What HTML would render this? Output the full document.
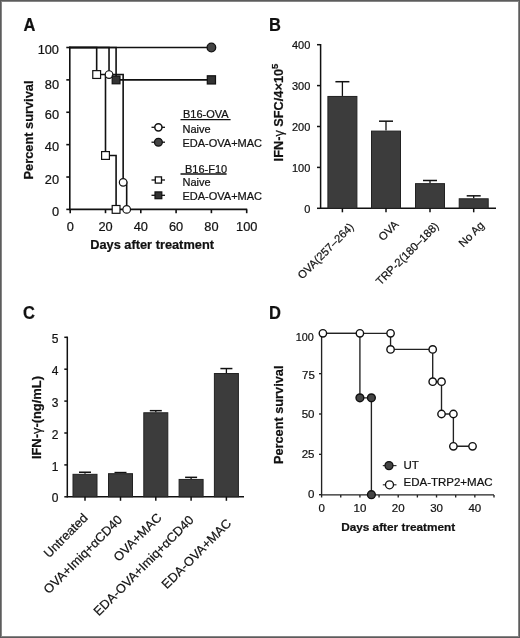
<!DOCTYPE html>
<html><head><meta charset="utf-8"><style>
html,body{margin:0;padding:0;background:#fff;}
body{width:520px;height:638px;overflow:hidden;}
.fig{position:absolute;left:0;top:0;width:518px;height:636px;border:1px solid #5c5c5c;box-shadow:inset 0 0 0 1px #868686;}
svg{position:absolute;left:0;top:0;will-change:transform;}
text{font-family:"Liberation Sans", sans-serif;stroke:#111;stroke-width:0.22px;paint-order:stroke;}
</style></head><body>
<div class="fig"></div>
<svg width="520" height="638" viewBox="0 0 520 638">
<text transform="translate(23.4 30.8) scale(0.9 1)" x="0" y="0" font-size="18.3" font-weight="bold" fill="#111">A</text>
<line x1="69.80" y1="46.70" x2="69.80" y2="210.20" stroke="#111" stroke-width="1.6"/>
<line x1="66.30" y1="209.40" x2="69.80" y2="209.40" stroke="#111" stroke-width="1.6"/>
<text x="59.00" y="215.70" font-size="12.8" text-anchor="end" fill="#111">0</text>
<line x1="66.30" y1="177.02" x2="69.80" y2="177.02" stroke="#111" stroke-width="1.6"/>
<text x="59.00" y="184.32" font-size="12.8" text-anchor="end" fill="#111">20</text>
<line x1="66.30" y1="144.64" x2="69.80" y2="144.64" stroke="#111" stroke-width="1.6"/>
<text x="59.00" y="150.84" font-size="12.8" text-anchor="end" fill="#111">40</text>
<line x1="66.30" y1="112.26" x2="69.80" y2="112.26" stroke="#111" stroke-width="1.6"/>
<text x="59.00" y="119.26" font-size="12.8" text-anchor="end" fill="#111">60</text>
<line x1="66.30" y1="79.88" x2="69.80" y2="79.88" stroke="#111" stroke-width="1.6"/>
<text x="59.00" y="88.88" font-size="12.8" text-anchor="end" fill="#111">80</text>
<line x1="66.30" y1="47.50" x2="69.80" y2="47.50" stroke="#111" stroke-width="1.6"/>
<text x="59.00" y="54.40" font-size="12.8" text-anchor="end" fill="#111">100</text>
<line x1="69.80" y1="209.40" x2="247.20" y2="209.40" stroke="#111" stroke-width="1.6"/>
<line x1="70.20" y1="209.40" x2="70.20" y2="213.20" stroke="#111" stroke-width="1.6"/>
<text x="70.20" y="230.80" font-size="12.8" text-anchor="middle" fill="#111">0</text>
<line x1="105.50" y1="209.40" x2="105.50" y2="213.20" stroke="#111" stroke-width="1.6"/>
<text x="105.50" y="230.80" font-size="12.8" text-anchor="middle" fill="#111">20</text>
<line x1="140.80" y1="209.40" x2="140.80" y2="213.20" stroke="#111" stroke-width="1.6"/>
<text x="140.80" y="230.80" font-size="12.8" text-anchor="middle" fill="#111">40</text>
<line x1="176.10" y1="209.40" x2="176.10" y2="213.20" stroke="#111" stroke-width="1.6"/>
<text x="176.10" y="230.80" font-size="12.8" text-anchor="middle" fill="#111">60</text>
<line x1="211.40" y1="209.40" x2="211.40" y2="213.20" stroke="#111" stroke-width="1.6"/>
<text x="211.40" y="230.80" font-size="12.8" text-anchor="middle" fill="#111">80</text>
<line x1="246.70" y1="209.40" x2="246.70" y2="213.20" stroke="#111" stroke-width="1.6"/>
<text x="246.70" y="230.80" font-size="12.8" text-anchor="middle" fill="#111">100</text>
<text x="152.10" y="249.30" font-size="12.8" text-anchor="middle" font-weight="bold" fill="#111">Days after treatment</text>
<text x="32.50" y="130.00" font-size="12.8" text-anchor="middle" font-weight="bold" transform="rotate(-90 32.50 130.00)" fill="#111">Percent survival</text>
<polyline points="69.80,47.50 211.40,47.50" fill="none" stroke="#111" stroke-width="1.6" stroke-linejoin="miter" stroke-linecap="square"/>
<polyline points="70.20,47.50 96.67,47.50 96.67,74.54 105.50,74.54 105.50,155.49 116.09,155.49 116.09,209.40" fill="none" stroke="#111" stroke-width="1.6" stroke-linejoin="miter" stroke-linecap="square"/>
<polyline points="70.20,47.50 109.03,47.50 109.03,74.54 123.15,74.54 123.15,182.36 126.68,182.36 126.68,209.40" fill="none" stroke="#111" stroke-width="1.6" stroke-linejoin="miter" stroke-linecap="square"/>
<polyline points="70.20,47.50 116.09,47.50 116.09,79.88 211.40,79.88" fill="none" stroke="#111" stroke-width="1.6" stroke-linejoin="miter" stroke-linecap="square"/>
<rect x="92.77" y="70.64" width="7.8" height="7.8" fill="#fff" stroke="#111" stroke-width="1.2"/>
<rect x="101.60" y="151.59" width="7.8" height="7.8" fill="#fff" stroke="#111" stroke-width="1.2"/>
<rect x="112.19" y="205.50" width="7.8" height="7.8" fill="#fff" stroke="#111" stroke-width="1.2"/>
<circle cx="109.03" cy="74.54" r="3.8" fill="#fff" stroke="#111" stroke-width="1.2"/>
<circle cx="123.15" cy="182.36" r="3.8" fill="#fff" stroke="#111" stroke-width="1.2"/>
<circle cx="126.68" cy="209.40" r="3.8" fill="#fff" stroke="#111" stroke-width="1.2"/>
<rect x="112.19" y="75.98" width="7.8" height="7.8" fill="#333" stroke="#111" stroke-width="1.2"/>
<rect x="207.30" y="75.78" width="8.2" height="8.2" fill="#333" stroke="#111" stroke-width="1.2"/>
<circle cx="211.40" cy="47.50" r="4.3" fill="#444" stroke="#111" stroke-width="1.3"/>
<text x="183.00" y="118.00" font-size="11" text-anchor="start" fill="#111">B16-OVA</text>
<line x1="180.50" y1="119.70" x2="230.60" y2="119.70" stroke="#111" stroke-width="1.3"/>
<text x="182.50" y="132.50" font-size="11" text-anchor="start" fill="#111">Naive</text>
<text x="182.50" y="147.00" font-size="11" text-anchor="start" fill="#111">EDA-OVA+MAC</text>
<line x1="151.50" y1="127.30" x2="165.00" y2="127.30" stroke="#111" stroke-width="1.3"/>
<circle cx="158.40" cy="127.30" r="3.6" fill="#fff" stroke="#111" stroke-width="1.5"/>
<line x1="151.50" y1="142.20" x2="165.00" y2="142.20" stroke="#111" stroke-width="1.3"/>
<circle cx="158.40" cy="142.20" r="3.9" fill="#444" stroke="#111" stroke-width="1.3"/>
<text x="185.00" y="173.00" font-size="11" text-anchor="start" fill="#111">B16-F10</text>
<line x1="180.50" y1="174.00" x2="226.60" y2="174.00" stroke="#111" stroke-width="1.3"/>
<text x="182.50" y="185.80" font-size="11" text-anchor="start" fill="#111">Naive</text>
<text x="182.50" y="200.20" font-size="11" text-anchor="start" fill="#111">EDA-OVA+MAC</text>
<line x1="151.50" y1="180.00" x2="165.00" y2="180.00" stroke="#111" stroke-width="1.3"/>
<rect x="155.30" y="176.90" width="6.2" height="6.2" fill="#fff" stroke="#111" stroke-width="1.3"/>
<line x1="151.50" y1="195.30" x2="165.00" y2="195.30" stroke="#111" stroke-width="1.3"/>
<rect x="155.00" y="191.90" width="6.8" height="6.8" fill="#333" stroke="#111" stroke-width="1.2"/>
<text transform="translate(269.0 30.8) scale(0.9 1)" x="0" y="0" font-size="18.3" font-weight="bold" fill="#111">B</text>
<line x1="320.60" y1="44.00" x2="320.60" y2="209.00" stroke="#111" stroke-width="1.5"/>
<line x1="317.00" y1="208.30" x2="320.60" y2="208.30" stroke="#111" stroke-width="1.5"/>
<text x="310.30" y="212.90" font-size="11" text-anchor="end" fill="#111">0</text>
<line x1="317.00" y1="167.40" x2="320.60" y2="167.40" stroke="#111" stroke-width="1.5"/>
<text x="310.30" y="172.00" font-size="11" text-anchor="end" fill="#111">100</text>
<line x1="317.00" y1="126.50" x2="320.60" y2="126.50" stroke="#111" stroke-width="1.5"/>
<text x="310.30" y="131.10" font-size="11" text-anchor="end" fill="#111">200</text>
<line x1="317.00" y1="85.60" x2="320.60" y2="85.60" stroke="#111" stroke-width="1.5"/>
<text x="310.30" y="90.20" font-size="11" text-anchor="end" fill="#111">300</text>
<line x1="317.00" y1="44.70" x2="320.60" y2="44.70" stroke="#111" stroke-width="1.5"/>
<text x="310.30" y="49.30" font-size="11" text-anchor="end" fill="#111">400</text>
<line x1="320.60" y1="208.30" x2="496.00" y2="208.30" stroke="#111" stroke-width="1.5"/>
<line x1="342.40" y1="95.95" x2="342.40" y2="81.71" stroke="#111" stroke-width="1.3"/>
<line x1="335.40" y1="81.71" x2="349.40" y2="81.71" stroke="#111" stroke-width="1.5"/>
<rect x="327.90" y="96.45" width="29.00" height="111.85" fill="#3c3c3c" stroke="#222" stroke-width="1"/>
<line x1="342.40" y1="208.30" x2="342.40" y2="212.30" stroke="#111" stroke-width="1.5"/>
<line x1="386.00" y1="130.59" x2="386.00" y2="121.18" stroke="#111" stroke-width="1.3"/>
<line x1="379.00" y1="121.18" x2="393.00" y2="121.18" stroke="#111" stroke-width="1.5"/>
<rect x="371.50" y="131.09" width="29.00" height="77.21" fill="#3c3c3c" stroke="#222" stroke-width="1"/>
<line x1="386.00" y1="208.30" x2="386.00" y2="212.30" stroke="#111" stroke-width="1.5"/>
<line x1="430.00" y1="183.15" x2="430.00" y2="180.49" stroke="#111" stroke-width="1.3"/>
<line x1="423.00" y1="180.49" x2="437.00" y2="180.49" stroke="#111" stroke-width="1.5"/>
<rect x="415.50" y="183.65" width="29.00" height="24.65" fill="#3c3c3c" stroke="#222" stroke-width="1"/>
<line x1="430.00" y1="208.30" x2="430.00" y2="212.30" stroke="#111" stroke-width="1.5"/>
<line x1="473.70" y1="198.28" x2="473.70" y2="195.83" stroke="#111" stroke-width="1.3"/>
<line x1="466.70" y1="195.83" x2="480.70" y2="195.83" stroke="#111" stroke-width="1.5"/>
<rect x="459.20" y="198.78" width="29.00" height="9.52" fill="#3c3c3c" stroke="#222" stroke-width="1"/>
<line x1="473.70" y1="208.30" x2="473.70" y2="212.30" stroke="#111" stroke-width="1.5"/>
<text x="283.00" y="112.50" font-size="12.75" text-anchor="middle" font-weight="bold" transform="rotate(-90 283.00 112.50)" fill="#111">IFN-<tspan font-weight="normal">γ</tspan> SFC/4×10<tspan font-size="9.5" dy="-5">5</tspan></text>
<text x="354.50" y="227.60" font-size="11.2" text-anchor="end" transform="rotate(-45 354.50 227.60)" fill="#111">OVA(257–264)</text>
<text x="399.20" y="225.30" font-size="11.2" text-anchor="end" transform="rotate(-45 399.20 225.30)" fill="#111">OVA</text>
<text x="439.50" y="226.80" font-size="11.2" text-anchor="end" transform="rotate(-45 439.50 226.80)" fill="#111">TRP-2(180–188)</text>
<text x="484.90" y="226.10" font-size="11.2" text-anchor="end" transform="rotate(-45 484.90 226.10)" fill="#111">No Ag</text>
<text transform="translate(23.0 318.8) scale(0.9 1)" x="0" y="0" font-size="18.3" font-weight="bold" fill="#111">C</text>
<line x1="67.30" y1="336.60" x2="67.30" y2="497.50" stroke="#111" stroke-width="1.5"/>
<line x1="64.30" y1="496.80" x2="67.30" y2="496.80" stroke="#111" stroke-width="1.5"/>
<text x="58.50" y="502.40" font-size="12" text-anchor="end" fill="#111">0</text>
<line x1="64.30" y1="464.90" x2="67.30" y2="464.90" stroke="#111" stroke-width="1.5"/>
<text x="58.50" y="470.50" font-size="12" text-anchor="end" fill="#111">1</text>
<line x1="64.30" y1="433.00" x2="67.30" y2="433.00" stroke="#111" stroke-width="1.5"/>
<text x="58.50" y="438.60" font-size="12" text-anchor="end" fill="#111">2</text>
<line x1="64.30" y1="401.10" x2="67.30" y2="401.10" stroke="#111" stroke-width="1.5"/>
<text x="58.50" y="406.70" font-size="12" text-anchor="end" fill="#111">3</text>
<line x1="64.30" y1="369.20" x2="67.30" y2="369.20" stroke="#111" stroke-width="1.5"/>
<text x="58.50" y="374.80" font-size="12" text-anchor="end" fill="#111">4</text>
<line x1="64.30" y1="337.30" x2="67.30" y2="337.30" stroke="#111" stroke-width="1.5"/>
<text x="58.50" y="342.90" font-size="12" text-anchor="end" fill="#111">5</text>
<line x1="67.30" y1="496.80" x2="244.00" y2="496.80" stroke="#111" stroke-width="1.5"/>
<line x1="85.00" y1="473.83" x2="85.00" y2="472.24" stroke="#111" stroke-width="1.3"/>
<line x1="79.00" y1="472.24" x2="91.00" y2="472.24" stroke="#111" stroke-width="1.5"/>
<rect x="73.00" y="474.33" width="24.00" height="22.47" fill="#3c3c3c" stroke="#222" stroke-width="1"/>
<line x1="85.00" y1="496.80" x2="85.00" y2="500.80" stroke="#111" stroke-width="1.5"/>
<line x1="120.50" y1="473.19" x2="120.50" y2="472.56" stroke="#111" stroke-width="1.3"/>
<line x1="114.50" y1="472.56" x2="126.50" y2="472.56" stroke="#111" stroke-width="1.5"/>
<rect x="108.50" y="473.69" width="24.00" height="23.11" fill="#3c3c3c" stroke="#222" stroke-width="1"/>
<line x1="120.50" y1="496.80" x2="120.50" y2="500.80" stroke="#111" stroke-width="1.5"/>
<line x1="155.80" y1="412.26" x2="155.80" y2="410.67" stroke="#111" stroke-width="1.3"/>
<line x1="149.80" y1="410.67" x2="161.80" y2="410.67" stroke="#111" stroke-width="1.5"/>
<rect x="143.80" y="412.76" width="24.00" height="84.04" fill="#3c3c3c" stroke="#222" stroke-width="1"/>
<line x1="155.80" y1="496.80" x2="155.80" y2="500.80" stroke="#111" stroke-width="1.5"/>
<line x1="191.10" y1="478.94" x2="191.10" y2="477.34" stroke="#111" stroke-width="1.3"/>
<line x1="185.10" y1="477.34" x2="197.10" y2="477.34" stroke="#111" stroke-width="1.5"/>
<rect x="179.10" y="479.44" width="24.00" height="17.36" fill="#3c3c3c" stroke="#222" stroke-width="1"/>
<line x1="191.10" y1="496.80" x2="191.10" y2="500.80" stroke="#111" stroke-width="1.5"/>
<line x1="226.40" y1="373.03" x2="226.40" y2="368.56" stroke="#111" stroke-width="1.3"/>
<line x1="220.40" y1="368.56" x2="232.40" y2="368.56" stroke="#111" stroke-width="1.5"/>
<rect x="214.40" y="373.53" width="24.00" height="123.27" fill="#3c3c3c" stroke="#222" stroke-width="1"/>
<line x1="226.40" y1="496.80" x2="226.40" y2="500.80" stroke="#111" stroke-width="1.5"/>
<text x="40.60" y="417.60" font-size="12.9" text-anchor="middle" font-weight="bold" transform="rotate(-90 40.60 417.60)" fill="#111">IFN-<tspan font-weight="normal">γ</tspan>-(ng/mL)</text>
<text x="88.60" y="518.80" font-size="12.75" text-anchor="end" transform="rotate(-45 88.60 518.80)" fill="#111">Untreated</text>
<text x="123.00" y="520.40" font-size="12.75" text-anchor="end" transform="rotate(-45 123.00 520.40)" fill="#111">OVA+Imiq+αCD40</text>
<text x="162.40" y="518.50" font-size="12.75" text-anchor="end" transform="rotate(-45 162.40 518.50)" fill="#111">OVA+MAC</text>
<text x="194.60" y="520.70" font-size="12.75" text-anchor="end" transform="rotate(-45 194.60 520.70)" fill="#111">EDA-OVA+Imiq+αCD40</text>
<text x="232.10" y="524.30" font-size="12.75" text-anchor="end" transform="rotate(-45 232.10 524.30)" fill="#111">EDA-OVA+MAC</text>
<text transform="translate(269.0 318.8) scale(0.9 1)" x="0" y="0" font-size="18.3" font-weight="bold" fill="#111">D</text>
<line x1="321.60" y1="333.30" x2="321.60" y2="494.90" stroke="#222" stroke-width="1.35"/>
<line x1="319.00" y1="494.70" x2="321.60" y2="494.70" stroke="#222" stroke-width="1.35"/>
<text x="314.50" y="498.40" font-size="11.5" text-anchor="end" fill="#111">0</text>
<line x1="319.00" y1="454.35" x2="321.60" y2="454.35" stroke="#222" stroke-width="1.35"/>
<text x="314.50" y="458.40" font-size="11.5" text-anchor="end" fill="#111">25</text>
<line x1="319.00" y1="414.00" x2="321.60" y2="414.00" stroke="#222" stroke-width="1.35"/>
<text x="314.50" y="418.40" font-size="11.5" text-anchor="end" fill="#111">50</text>
<line x1="319.00" y1="373.65" x2="321.60" y2="373.65" stroke="#222" stroke-width="1.35"/>
<text x="314.80" y="378.90" font-size="11.5" text-anchor="end" fill="#111">75</text>
<line x1="319.00" y1="333.30" x2="321.60" y2="333.30" stroke="#222" stroke-width="1.35"/>
<text x="313.80" y="341.30" font-size="10.8" text-anchor="end" fill="#111">100</text>
<line x1="321.60" y1="494.90" x2="494.00" y2="494.90" stroke="#222" stroke-width="1.35"/>
<line x1="321.60" y1="494.90" x2="321.60" y2="497.50" stroke="#222" stroke-width="1.35"/>
<line x1="340.75" y1="494.90" x2="340.75" y2="497.50" stroke="#222" stroke-width="1.35"/>
<line x1="359.91" y1="494.90" x2="359.91" y2="497.50" stroke="#222" stroke-width="1.35"/>
<line x1="379.06" y1="494.90" x2="379.06" y2="497.50" stroke="#222" stroke-width="1.35"/>
<line x1="398.22" y1="494.90" x2="398.22" y2="497.50" stroke="#222" stroke-width="1.35"/>
<line x1="417.38" y1="494.90" x2="417.38" y2="497.50" stroke="#222" stroke-width="1.35"/>
<line x1="436.53" y1="494.90" x2="436.53" y2="497.50" stroke="#222" stroke-width="1.35"/>
<line x1="455.69" y1="494.90" x2="455.69" y2="497.50" stroke="#222" stroke-width="1.35"/>
<line x1="474.84" y1="494.90" x2="474.84" y2="497.50" stroke="#222" stroke-width="1.35"/>
<line x1="494.00" y1="494.90" x2="494.00" y2="497.50" stroke="#222" stroke-width="1.35"/>
<text x="321.60" y="512.00" font-size="11.5" text-anchor="middle" fill="#111">0</text>
<text x="359.91" y="512.00" font-size="11.5" text-anchor="middle" fill="#111">10</text>
<text x="398.22" y="512.00" font-size="11.5" text-anchor="middle" fill="#111">20</text>
<text x="436.53" y="512.00" font-size="11.5" text-anchor="middle" fill="#111">30</text>
<text x="474.84" y="512.00" font-size="11.5" text-anchor="middle" fill="#111">40</text>
<text x="398.20" y="530.50" font-size="11.8" text-anchor="middle" font-weight="bold" fill="#111">Days after treatment</text>
<text x="282.60" y="414.80" font-size="12.75" text-anchor="middle" font-weight="bold" transform="rotate(-90 282.60 414.80)" fill="#111">Percent survival</text>
<polyline points="321.60,333.30 359.91,333.30 359.91,397.86 371.40,397.86 371.40,494.70" fill="none" stroke="#222" stroke-width="1.35" stroke-linejoin="miter" stroke-linecap="square"/>
<polyline points="321.60,333.30 359.91,333.30 390.56,333.30 390.56,349.44 432.70,349.44 432.70,381.72 441.51,381.72 441.51,414.00 453.39,414.00 453.39,446.28 472.54,446.28" fill="none" stroke="#222" stroke-width="1.35" stroke-linejoin="miter" stroke-linecap="square"/>
<circle cx="359.91" cy="397.86" r="3.9" fill="#444" stroke="#111" stroke-width="1.4"/>
<circle cx="371.40" cy="397.86" r="3.9" fill="#444" stroke="#111" stroke-width="1.4"/>
<circle cx="371.40" cy="494.70" r="3.9" fill="#444" stroke="#111" stroke-width="1.4"/>
<circle cx="322.90" cy="333.30" r="3.7" fill="#fff" stroke="#111" stroke-width="1.4"/>
<circle cx="359.91" cy="333.30" r="3.7" fill="#fff" stroke="#111" stroke-width="1.4"/>
<circle cx="390.56" cy="333.30" r="3.7" fill="#fff" stroke="#111" stroke-width="1.4"/>
<circle cx="390.56" cy="349.44" r="3.7" fill="#fff" stroke="#111" stroke-width="1.4"/>
<circle cx="432.70" cy="349.44" r="3.7" fill="#fff" stroke="#111" stroke-width="1.4"/>
<circle cx="432.70" cy="381.72" r="3.7" fill="#fff" stroke="#111" stroke-width="1.4"/>
<circle cx="441.51" cy="381.72" r="3.7" fill="#fff" stroke="#111" stroke-width="1.4"/>
<circle cx="441.51" cy="414.00" r="3.7" fill="#fff" stroke="#111" stroke-width="1.4"/>
<circle cx="453.39" cy="414.00" r="3.7" fill="#fff" stroke="#111" stroke-width="1.4"/>
<circle cx="453.39" cy="446.28" r="3.7" fill="#fff" stroke="#111" stroke-width="1.4"/>
<circle cx="472.54" cy="446.28" r="3.7" fill="#fff" stroke="#111" stroke-width="1.4"/>
<line x1="382.80" y1="465.60" x2="396.50" y2="465.60" stroke="#333" stroke-width="1.2"/>
<circle cx="389.00" cy="465.60" r="4" fill="#444" stroke="#111" stroke-width="1.3"/>
<line x1="382.80" y1="484.80" x2="396.50" y2="484.80" stroke="#333" stroke-width="1.2"/>
<circle cx="389.50" cy="484.80" r="4" fill="#fff" stroke="#111" stroke-width="1.3"/>
<text x="403.50" y="469.00" font-size="11.5" text-anchor="start" fill="#111">UT</text>
<text x="403.50" y="486.30" font-size="11.5" text-anchor="start" fill="#111">EDA-TRP2+MAC</text>
</svg>
</body></html>
